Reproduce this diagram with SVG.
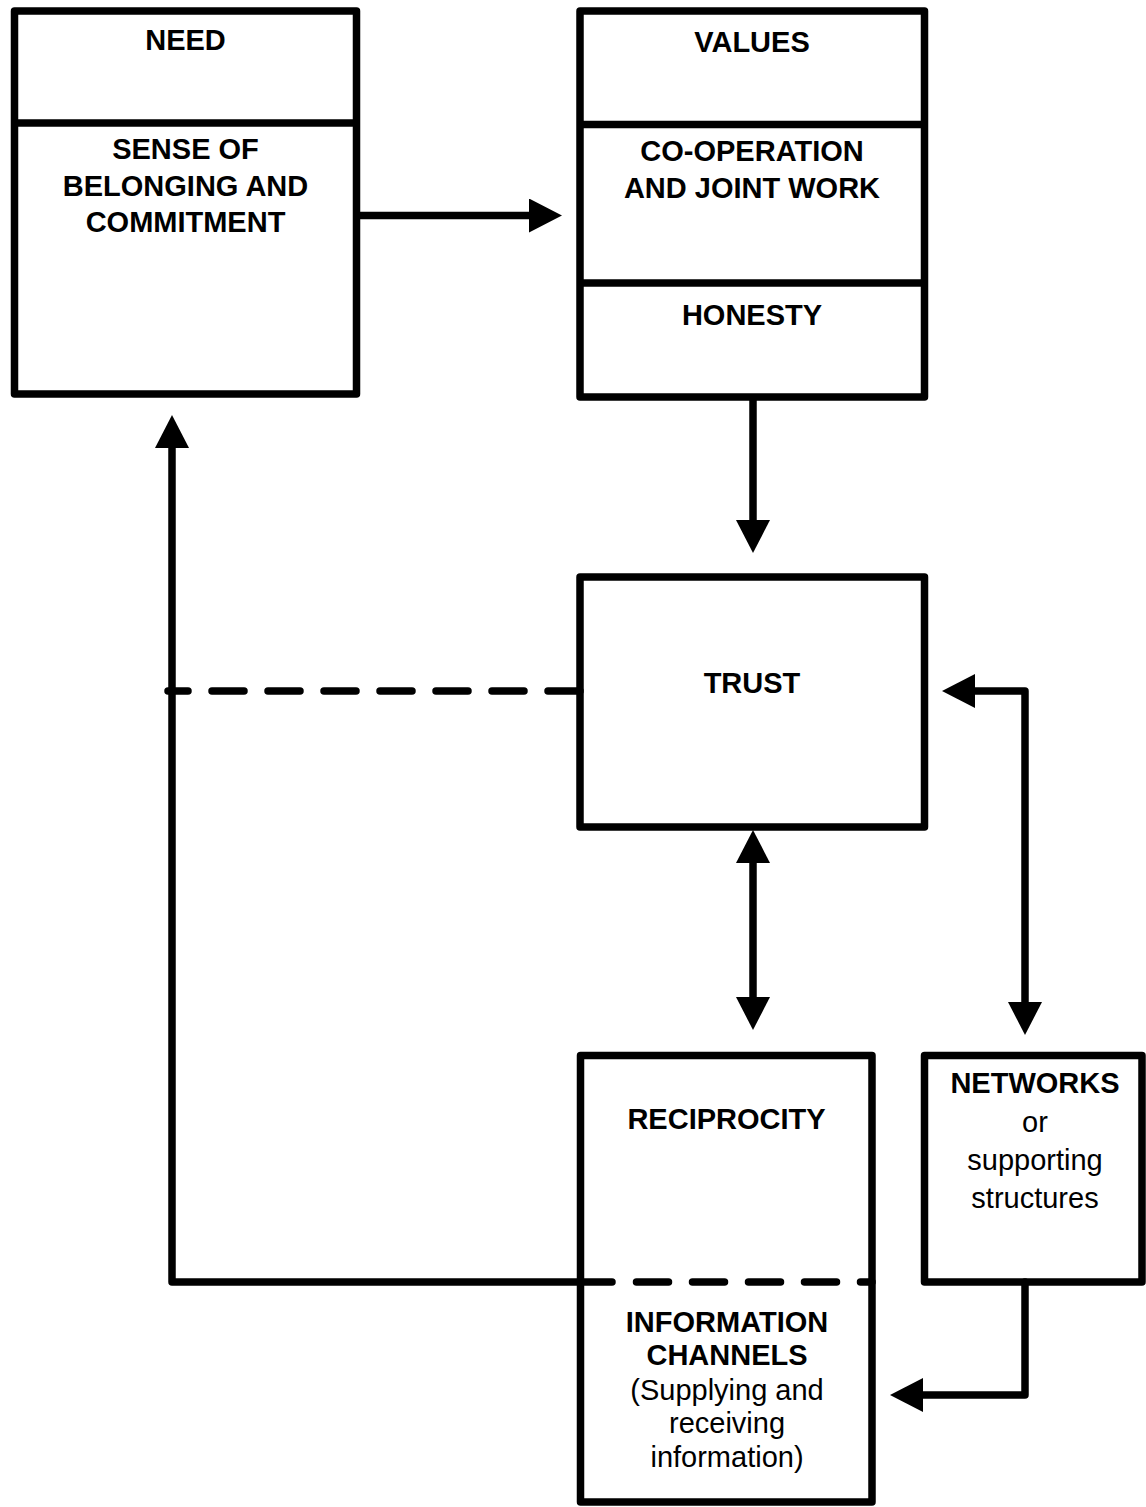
<svg xmlns="http://www.w3.org/2000/svg" width="1146" height="1507" viewBox="0 0 1146 1507">
  <style>
    .box { fill: #ffffff; stroke: #000000; stroke-width: 7.5; stroke-linejoin: round; }
    .div { stroke: #000000; stroke-width: 7.5; }
    .ln { fill: none; stroke: #000000; stroke-width: 7.5; stroke-linejoin: round; stroke-linecap: round; }
    .dash { fill: none; stroke: #000000; stroke-width: 7.5; stroke-linecap: round; stroke-dasharray: 32 24; }
    .b { font-family: "Liberation Sans", Arial, sans-serif; font-weight: bold; font-size: 29px; text-anchor: middle; fill: #000000; }
    .r { font-family: "Liberation Sans", Arial, sans-serif; font-weight: normal; font-size: 29px; text-anchor: middle; fill: #000000; }
  </style>
  <defs>
    <marker id="ah" viewBox="0 0 33 34" refX="10" refY="17" markerWidth="33" markerHeight="34" markerUnits="userSpaceOnUse" orient="auto-start-reverse">
      <path d="M0,0 L33,17 L0,34 Z" fill="#000000"/>
    </marker>
  </defs>
  <rect x="0" y="0" width="1146" height="1507" fill="#ffffff"/>

  <g id="node-need">
    <rect class="box" x="14.5" y="11" width="342" height="383"/>
    <line class="div" x1="14.5" y1="123" x2="356.5" y2="123"/>
    <text class="b" x="185.5" y="50">NEED</text>
    <text class="b" x="185.5" y="159">SENSE OF</text>
    <text class="b" x="185.5" y="195.5">BELONGING AND</text>
    <text class="b" x="185.5" y="232">COMMITMENT</text>
  </g>

  <g id="node-values">
    <rect class="box" x="580" y="11" width="344.5" height="386"/>
    <line class="div" x1="580" y1="124.5" x2="924.5" y2="124.5"/>
    <line class="div" x1="580" y1="283" x2="924.5" y2="283"/>
    <text class="b" x="752" y="52">VALUES</text>
    <text class="b" x="752" y="160.5">CO-OPERATION</text>
    <text class="b" x="752" y="198">AND JOINT WORK</text>
    <text class="b" x="752" y="325">HONESTY</text>
  </g>

  <g id="node-trust">
    <rect class="box" x="580" y="577" width="344.5" height="250"/>
    <text class="b" x="752" y="693">TRUST</text>
  </g>

  <g id="node-reciprocity">
    <rect class="box" x="580.5" y="1055.5" width="291.5" height="446.5"/>
    <text class="b" x="726.5" y="1129">RECIPROCITY</text>
    <text class="b" x="727" y="1332">INFORMATION</text>
    <text class="b" x="727" y="1365">CHANNELS</text>
    <text class="r" x="727" y="1400">(Supplying and</text>
    <text class="r" x="727" y="1433">receiving</text>
    <text class="r" x="727" y="1467">information)</text>
  </g>

  <g id="node-networks">
    <rect class="box" x="924.5" y="1055.5" width="217.5" height="226.5"/>
    <text class="b" x="1035" y="1093">NETWORKS</text>
    <text class="r" x="1035" y="1132">or</text>
    <text class="r" x="1035" y="1170">supporting</text>
    <text class="r" x="1035" y="1208">structures</text>
  </g>

  <g id="connectors">
    <path class="ln" d="M360,215.5 L539,215.5" marker-end="url(#ah)"/>
    <path class="ln" d="M753,400 L753,530" marker-end="url(#ah)"/>
    <path class="ln" d="M753,853 L753,1007" marker-start="url(#ah)" marker-end="url(#ah)"/>
    <path class="ln" d="M965,691 L1025,691 L1025,1012" marker-start="url(#ah)" marker-end="url(#ah)"/>
    <path class="ln" d="M1025,1282 L1025,1395 L913,1395" marker-end="url(#ah)"/>
    <path class="ln" d="M612,1282 L172,1282 L172,438" marker-end="url(#ah)"/>
    <path class="dash" d="M636.5,1282 L872,1282"/>
    <path class="dash" d="M580,691 L168,691"/>
  </g>
</svg>
